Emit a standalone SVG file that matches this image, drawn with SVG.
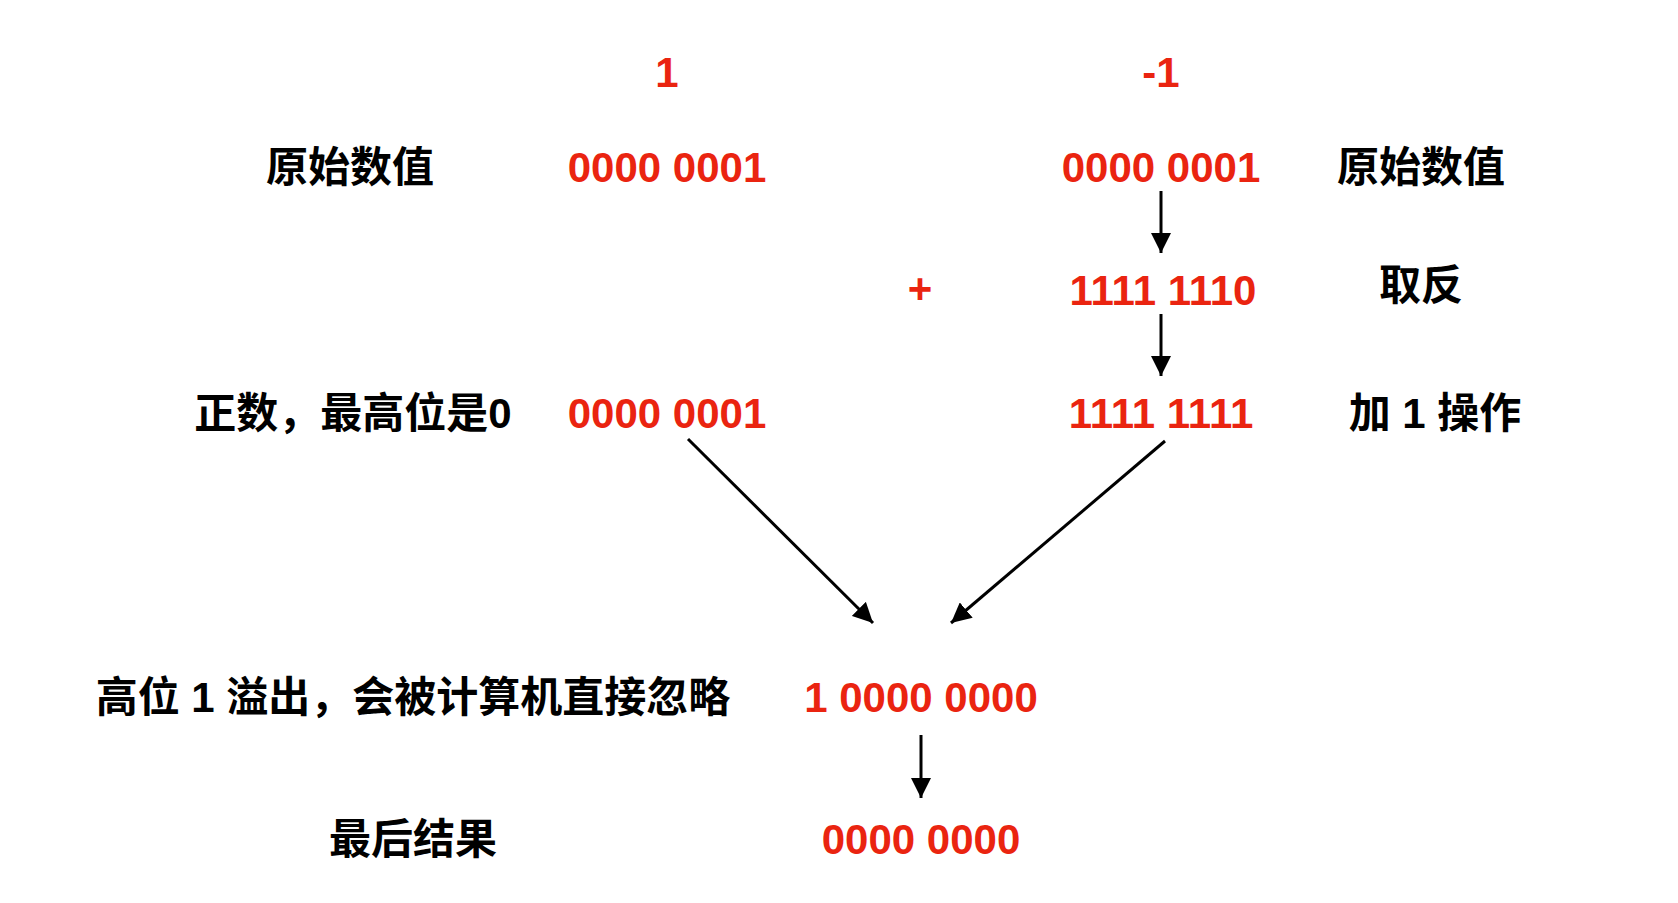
<svg xmlns="http://www.w3.org/2000/svg" width="1678" height="903" viewBox="0 0 1678 903">
<style>
text{font-family:"Liberation Sans","Noto Sans CJK SC",sans-serif;font-weight:bold;font-size:42px;text-anchor:middle}
.r{fill:#ea2410}.k{fill:#000}
line{stroke:#000;stroke-width:3}
</style>
<defs><marker id="a" markerWidth="8" markerHeight="8" refX="7" refY="4" orient="auto" markerUnits="userSpaceOnUse" viewBox="0 0 8 8"><path d="M0,0L8,4L0,8z"/></marker>
<marker id="b" viewBox="0 0 10 10" refX="10" refY="5" markerWidth="20" markerHeight="20" markerUnits="userSpaceOnUse" orient="auto"><path d="M0,0L10,5L0,10z" fill="#000"/></marker></defs>
<rect width="1678" height="903" fill="#fff"/>
<g id="labels">
<text class="r" x="667" y="87">1</text>
<text class="r" x="1161" y="87">-1</text>
<text class="k" x="350" y="182">原始数值</text>
<text class="r" x="667" y="182">0000 0001</text>
<text class="r" x="1161" y="182">0000 0001</text>
<text class="k" x="1421" y="182">原始数值</text>
<text class="r" x="920" y="303">+</text>
<text class="r" x="1163" y="305">1111 1110</text>
<text class="k" x="1421" y="300">取反</text>
<text class="k" x="353" y="428">正数，最高位是0</text>
<text class="r" x="667" y="428">0000 0001</text>
<text class="r" x="1161" y="428">1111 1111</text>
<text class="k" x="1435" y="428">加 1 操作</text>
<text class="k" x="413" y="712">高位 1 溢出，会被计算机直接忽略</text>
<text class="r" x="921" y="712">1 0000 0000</text>
<text class="k" x="413" y="854">最后结果</text>
<text class="r" x="921" y="854">0000 0000</text>
</g>
<g id="connectors">
<line x1="1161" y1="191" x2="1161" y2="253" marker-end="url(#b)"/>
<line x1="1161" y1="314" x2="1161" y2="376" marker-end="url(#b)"/>
<line x1="688" y1="439" x2="873" y2="623" marker-end="url(#b)"/>
<line x1="1165" y1="441" x2="951" y2="623" marker-end="url(#b)"/>
<line x1="921" y1="735" x2="921" y2="798" marker-end="url(#b)"/>
</g>
</svg>
